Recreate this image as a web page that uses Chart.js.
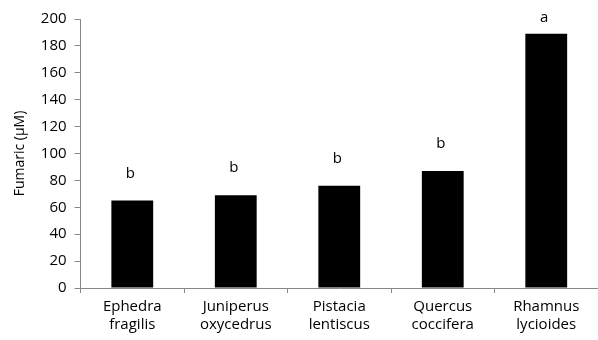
<!DOCTYPE html>
<html>
<head>
<meta charset="utf-8">
<script src="https://cdn.jsdelivr.net/npm/chart.js@4/dist/chart.umd.min.js"></script>
<style>
  html, body { margin: 0; padding: 0; background: #fff; }
  #wrap { width: 598px; height: 340px; }
</style>
</head>
<body>
<div id="wrap"><canvas id="c"></canvas></div>
<script>
// Species (two-line labels), fumaric acid concentration, significance letters
const species = [
  ['Ephedra', 'fragilis'],
  ['Juniperus', 'oxycedrus'],
  ['Pistacia', 'lentiscus'],
  ['Quercus', 'coccifera'],
  ['Rhamnus', 'lycioides']
];
const fumaric = [65, 69, 76, 87, 189];
const letters = ['b', 'b', 'b', 'b', 'a'];
const yTicks = [0, 20, 40, 60, 80, 100, 120, 140, 160, 180, 200];

const FONT = '"Open Sans", "Noto Sans", sans-serif';

// Writes the significance letter above each bar
const letterPlugin = {
  id: 'letters',
  afterDatasetsDraw(chart) {
    const ctx = chart.ctx;
    const meta = chart.getDatasetMeta(0);
    ctx.save();
    ctx.fillStyle = '#000';
    ctx.font = '15px ' + FONT;
    ctx.textAlign = 'center';
    ctx.textBaseline = 'middle';
    meta.data.forEach((bar, i) => {
      const y = Math.max(bar.y - 27, chart.chartArea.top - 1);
      ctx.fillText(letters[i], bar.x - 2, y);
    });
    ctx.restore();
  }
};

new Chart(document.getElementById('c'), {
  type: 'bar',
  data: {
    labels: species,
    datasets: [{
      data: fumaric,
      backgroundColor: '#000',
      borderWidth: 0,
      categoryPercentage: 1,
      barPercentage: 0.404
    }]
  },
  options: {
    responsive: true,
    maintainAspectRatio: false,
    animation: false,
    layout: { padding: { top: 19, right: 0, left: 8, bottom: 1 } },
    plugins: { legend: { display: false }, tooltip: { enabled: false } },
    scales: {
      x: {
        grid: { drawOnChartArea: false, drawTicks: true, tickLength: 5, color: '#888', offset: true },
        border: { display: true, color: '#888', width: 1 },
        ticks: { color: '#000', font: { family: FONT, size: 15 }, padding: 5, maxRotation: 0 }
      },
      y: {
        min: 0,
        max: 200,
        afterBuildTicks(scale) { scale.ticks = yTicks.map(v => ({ value: v })); },
        grid: { drawOnChartArea: false, drawTicks: true, tickLength: 6, color: '#888' },
        border: { display: true, color: '#888', width: 1 },
        ticks: { color: '#000', font: { family: FONT, size: 15 }, padding: 8 },
        title: { display: true, text: 'Fumaric (µM)', color: '#000', font: { family: FONT, size: 14 }, padding: 4 }
      }
    }
  },
  plugins: [letterPlugin]
});
</script>
</body>
</html>
